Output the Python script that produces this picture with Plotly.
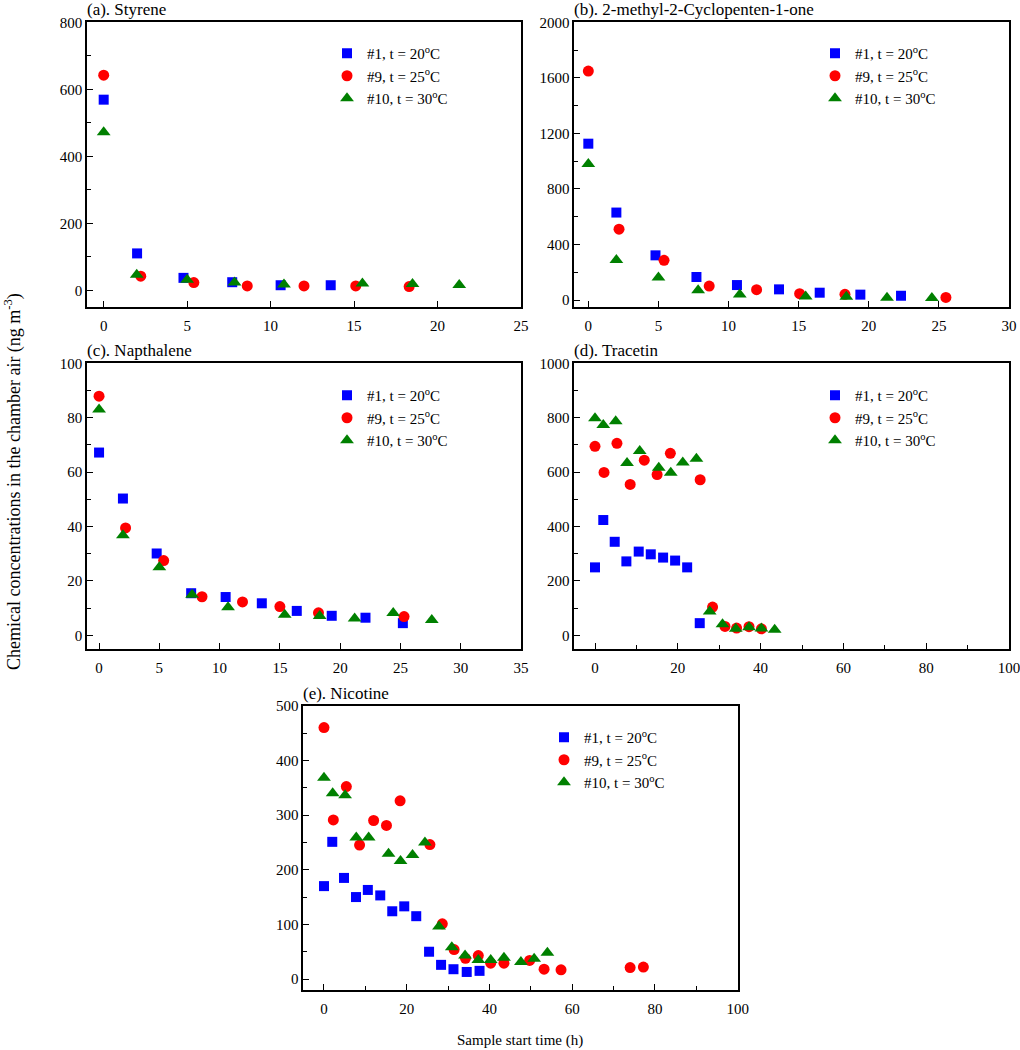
import plotly.graph_objects as go

# ---------------- data ----------------
series_names = ["#1, t = 20<sup>o</sup>C", "#9, t = 25<sup>o</sup>C", "#10, t = 30<sup>o</sup>C"]

# (a) Styrene
a_x1 = [0, 2.0, 4.78, 7.7, 10.6, 13.6]
a_y1 = [569, 110, 37, 24, 15, 15]
a_x9 = [0, 2.22, 5.4, 8.6, 12.0, 15.1, 18.3]
a_y9 = [642, 42, 23, 13, 13, 13, 11]
a_x10 = [0, 1.98, 5.0, 7.84, 10.8, 15.5, 18.5, 21.3]
a_y10 = [472, 46, 31, 23, 17, 20, 19, 16]

# (b) 2-methyl-2-Cyclopenten-1-one
b_x1 = [0, 2.0, 4.79, 7.71, 10.6, 13.6, 16.5, 19.4, 22.3]
b_y1 = [1126, 630, 322, 166, 108, 77, 53, 39, 31]
b_x9 = [0, 2.19, 5.4, 8.62, 12.0, 15.07, 18.3, 25.5]
b_y9 = [1649, 510, 286, 101, 75, 46, 41, 19]
b_x10 = [0, 2.0, 5.0, 7.83, 10.8, 15.5, 18.4, 21.3, 24.5]
b_y10 = [980, 288, 162, 70, 40, 26, 23, 16, 14]

# (c) Napthalene
c_x1 = [0, 1.98, 4.78, 7.64, 10.5, 13.5, 16.4, 19.3, 22.1, 25.2]
c_y1 = [67.2, 50.3, 30.1, 15.5, 14.1, 11.8, 9.0, 7.2, 6.5, 4.5]
c_x9 = [0, 2.2, 5.36, 8.54, 11.9, 15.0, 18.2, 25.3]
c_y9 = [87.9, 39.5, 27.5, 14.2, 12.3, 10.6, 8.3, 6.9]
c_x10 = [0, 1.98, 5.0, 7.72, 10.7, 15.4, 18.3, 21.2, 24.4, 27.6]
c_y10 = [83.0, 36.8, 25.0, 14.9, 10.3, 7.6, 7.1, 6.2, 8.2, 5.7]

# (d) Tracetin
d_x1 = [0, 2.0, 4.76, 7.58, 10.56, 13.47, 16.45, 19.35, 22.26, 25.3]
d_y1 = [250, 424, 344, 272, 308, 298, 286, 275, 250, 45]
d_x9 = [0, 2.18, 5.3, 8.5, 11.9, 15.0, 18.2, 25.4, 28.4, 31.4, 34.2, 37.2, 40.2]
d_y9 = [695, 599, 706, 555, 644, 591, 669, 572, 104, 33, 27, 32, 24]
d_x10 = [0, 2.0, 5.0, 7.74, 10.8, 15.4, 18.3, 21.2, 24.5, 27.7, 30.8, 34.0, 37.2, 40.2, 43.4]
d_y10 = [798, 773, 787, 634, 678, 616, 598, 635, 649, 88, 41, 24, 30, 25, 21]

# (e) Nicotine
e_x1 = [0, 2.0, 4.84, 7.74, 10.6, 13.6, 16.5, 19.4, 22.3, 25.4, 28.3, 31.3, 34.5, 37.6]
e_y1 = [170, 251, 185, 150, 163, 153, 124, 133, 115, 50, 26, 18, 13, 15]
e_x9 = [0, 2.26, 5.4, 8.6, 12.0, 15.1, 18.4, 25.6, 28.6, 31.45, 34.2, 37.3, 40.3, 43.5, 49.7, 53.2, 57.3, 74.0, 77.2]
e_y9 = [460, 291, 352, 245, 290, 281, 326, 246, 101, 54, 38, 43, 29, 29, 34, 18, 17, 21, 22]
e_x10 = [0, 2.1, 5.1, 7.8, 10.8, 15.6, 18.5, 21.4, 24.4, 27.8, 30.9, 34.1, 37.3, 40.3, 43.5, 47.6, 50.8, 54.0]
e_y10 = [368, 340, 336, 259, 259, 229, 216, 227, 250, 96, 58, 43, 35, 35, 39, 31, 37, 48]

titles = ["(a). Styrene", "(b). 2-methyl-2-Cyclopenten-1-one", "(c). Napthalene", "(d). Tracetin", "(e). Nicotine"]
x_label = "Sample start time (h)"
y_label = "Chemical concentrations in the chamber air (ng m<sup>-3</sup>)"

# ---------------- layout helpers ----------------
W, H = 1020, 1050
FONT = "Liberation Serif, Times New Roman, serif"

def px(x):
    return x / W

def py(y):
    return 1 - y / H

# panel boxes in pixel coordinates: left, right, top, bottom
panels = [
    dict(box=(87, 521, 22.3, 307), xr=[-1, 25], xd=5, yr=[-50, 800], yd=200, leg=(327, 37)),
    dict(box=(574.3, 1009, 22.3, 307), xr=[-1, 30], xd=5, yr=[-50, 2000], yd=400, leg=(815, 37)),
    dict(box=(87, 521, 363.3, 649), xr=[-1, 35], xd=5, yr=[-5, 100], yd=20, leg=(327, 379)),
    dict(box=(574.3, 1009, 363.3, 649), xr=[-5, 100], xd=20, yr=[-50, 1000], yd=200, leg=(815, 379)),
    dict(box=(303.3, 737.7, 705.7, 990), xr=[-5, 100], xd=20, yr=[-20, 500], yd=100, leg=(544, 721)),
]

data = [
    [(a_x1, a_y1), (a_x9, a_y9), (a_x10, a_y10)],
    [(b_x1, b_y1), (b_x9, b_y9), (b_x10, b_y10)],
    [(c_x1, c_y1), (c_x9, c_y9), (c_x10, c_y10)],
    [(d_x1, d_y1), (d_x9, d_y9), (d_x10, d_y10)],
    [(e_x1, e_y1), (e_x9, e_y9), (e_x10, e_y10)],
]

styles = [
    dict(symbol="square", color="#0000FF", size=10),
    dict(symbol="circle", color="#FF0000", size=11),
    dict(symbol="triangle-up", color="#008000", size=12),
]

fig = go.Figure()
layout = dict(
    width=W, height=H,
    margin=dict(l=0, r=0, t=0, b=0, autoexpand=False),
    paper_bgcolor="white", plot_bgcolor="white",
    font=dict(family=FONT, size=14, color="black"),
    showlegend=True,
)
annotations = []

for i, (p, ds) in enumerate(zip(panels, data)):
    n = i + 1
    xa = "x" if n == 1 else f"x{n}"
    ya = "y" if n == 1 else f"y{n}"
    lg = "legend" if n == 1 else f"legend{n}"
    for (xs, ys), st, name in zip(ds, styles, series_names):
        fig.add_trace(go.Scatter(
            x=xs, y=ys, mode="markers", name=name,
            marker=dict(symbol=st["symbol"], color=st["color"], size=st["size"], line=dict(width=0)),
            xaxis=xa, yaxis=ya, legend=lg, cliponaxis=False,
        ))
    l, r, t, b = p["box"]
    axis_common = dict(
        showline=True, linecolor="black", linewidth=1.5, mirror=True,
        ticks="inside", ticklen=6, tickwidth=1.3, tickcolor="black",
        showgrid=False, zeroline=False, automargin=False,
        ticklabeloverflow="allow",
        tickfont=dict(family=FONT, size=15, color="black"),
        minor=dict(ticks="inside", ticklen=4, tickwidth=1.2, tickcolor="black", nticks=2, showgrid=False),
    )
    layout["xaxis" if n == 1 else f"xaxis{n}"] = dict(
        axis_common, domain=[px(l), px(r)], range=p["xr"], dtick=p["xd"], tick0=0,
        anchor=ya, ticklabelstandoff=4,
    )
    layout["yaxis" if n == 1 else f"yaxis{n}"] = dict(
        axis_common, domain=[py(b), py(t)], range=p["yr"], dtick=p["yd"], tick0=0,
        anchor=xa,
    )
    lx, ly = p["leg"]
    layout[lg] = dict(
        x=px(lx), y=py(ly), xanchor="left", yanchor="top",
        bgcolor="rgba(0,0,0,0)", borderwidth=0,
        font=dict(family=FONT, size=15, color="black"),
        tracegroupgap=0, itemwidth=30, itemclick=False,
    )
    annotations.append(dict(
        text=titles[i], x=px(l - 2), y=py(t - 12.5), xref="paper", yref="paper",
        xanchor="left", yanchor="middle", showarrow=False,
        font=dict(family=FONT, size=17, color="black"),
    ))

annotations.append(dict(
    text=y_label, x=px(13), y=py(482), xref="paper", yref="paper",
    xanchor="center", yanchor="middle", textangle=-90, showarrow=False,
    font=dict(family=FONT, size=18, color="black"),
))
annotations.append(dict(
    text=x_label, x=px(520), y=py(1040), xref="paper", yref="paper",
    xanchor="center", yanchor="middle", showarrow=False,
    font=dict(family=FONT, size=15, color="black"),
))
layout["annotations"] = annotations
fig.update_layout(**layout)
fig.write_html("out.html", config={"displayModeBar": False},
               post_script="document.body.style.margin='0px';")
